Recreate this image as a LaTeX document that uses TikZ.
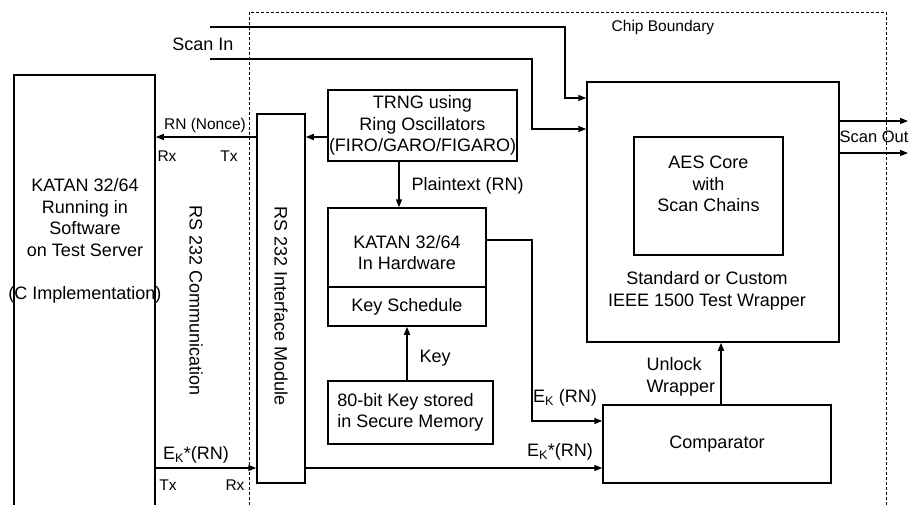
\documentclass[tikz,border=0pt]{standalone}
\usepackage{fontspec}
\setmainfont{Liberation Sans}
\usetikzlibrary{arrows.meta}

\tikzset{
  every node/.style={font=\fontsize{18}{21.6}\selectfont},
  box/.style={draw, line width=1.5pt, inner sep=0pt, align=center},
  arr/.style={-{Triangle[length=8pt,width=6pt]}, line width=1.5pt},
  wire/.style={line width=1.5pt},
  small/.style={font=\fontsize{15.5}{18}\selectfont},
  vtext/.style={rotate=-90}
}

\begin{document}
\begin{tikzpicture}[x=1pt,y=-1pt]
  \useasboundingbox (0,0) rectangle (916,504);
  \clip (0,0) rectangle (916,504);

  % chip boundary
  \draw[dash pattern=on 3pt off 2pt, line width=1pt] (249,510) -- (249,12) -- (886,12) -- (886,510);
  \node[small] (chip) at (663,27) {Chip Boundary};

  % test server
  \node[box, minimum width=141, minimum height=455] (sw) at (84.5,302.5) {};
  \node[align=center] (swtext) at (85,241) {KATAN 32/64\\Running in\\Software\\on Test Server\\[21.6pt](C Implementation)};
  \node[vtext] (comm) at (196,301) {RS 232 Communication};

  % on chip blocks
  \node[box, minimum width=48, minimum height=369] (rsif) at (281,298.5) {};
  \node[vtext] (rsiftext) at (281,306) {RS 232 Interface Module};
  \node[box, minimum width=189, minimum height=71] (trng) at (422.5,125.5)
    {TRNG using\\Ring Oscillators\\(FIRO/GARO/FIGARO)};
  \node[box, minimum width=158, minimum height=118] (hw) at (407,267) {};
  \draw[wire] (hw.west |- 0,287) -- (hw.east |- 0,287);
  \node[align=center] (hwtext) at (407,252.5) {KATAN 32/64\\In Hardware};
  \node (ks) at (407,306.5) {Key Schedule};
  \node[box, align=left, minimum width=165, minimum height=63] (mem) at (410.5,412.5)
    {80-bit Key stored\\in Secure Memory};
  \node[box, minimum width=252, minimum height=260] (wrap) at (713,212) {};
  \node[align=center] (wraptext) at (707,291) {Standard or Custom\\IEEE 1500 Test Wrapper};
  \node[box, minimum width=149, minimum height=118] (aes) at (708.5,196) {};
  \node[align=center] (aestext) at (708.5,184) {AES Core\\with\\Scan Chains};
  \node[box, minimum width=228, minimum height=78] (cmp) at (717,444) {Comparator};

  % scan in / scan out
  \coordinate (si1) at (210,27);
  \coordinate (si2) at (210,59);
  \coordinate (so1) at (908,121);
  \coordinate (so2) at (908,153);
  \node (scanin) at (203,44) {Scan In};
  \draw[arr] (si1) -- (565,27) |- (wrap.west |- 0,98);
  \draw[arr] (si2) -- (532,59) |- (wrap.west |- 0,129);
  \draw[arr] (wrap.east |- so1) -- (so1);
  \draw[arr] (wrap.east |- so2) -- (so2);
  \node[font=\fontsize{16.5}{20}\selectfont] (scanout) at (874,137) {Scan Out};

  % nonce path
  \draw[arr] (trng.west |- 0,137) -- (rsif.east |- 0,137);
  \draw[arr] (rsif.west |- 0,137) -- (sw.east |- 0,137);
  \node[small] (rn) at (205,125) {RN (Nonce)};
  \node[small] (rx1) at (167,156) {Rx};
  \node[small] (tx1) at (229,156) {Tx};
  \draw[arr] (trng.south -| 399,0) -- (hw.north -| 399,0);
  \node[anchor=west] (pt) at (408,186) {Plaintext (RN)};
  \draw[arr] (mem.north -| 407,0) -- (hw.south -| 407,0);
  \node[anchor=west] (key) at (416,358) {Key};

  % responses
  \draw[arr] (hw.east |- 0,240) -- (532,240) |- (cmp.west |- 0,421);
  \node (ek) at (565,398) {E\textsubscript{K} (RN)};
  \draw[arr] (sw.east |- 0,468) -- (rsif.west |- 0,468);
  \node (eks1) at (196,455) {E\textsubscript{K}*(RN)};
  \node[small] (tx2) at (168,485) {Tx};
  \node[small] (rx2) at (235,485) {Rx};
  \draw[arr] (rsif.east |- 0,468) -- (cmp.west |- 0,468);
  \node (eks2) at (560,452) {E\textsubscript{K}*(RN)};
  \draw[arr] (cmp.north -| 721,0) -- (wrap.south -| 721,0);
  \node[anchor=west, align=left] (unlock) at (643,377) {Unlock\\Wrapper};
\end{tikzpicture}
\end{document}
